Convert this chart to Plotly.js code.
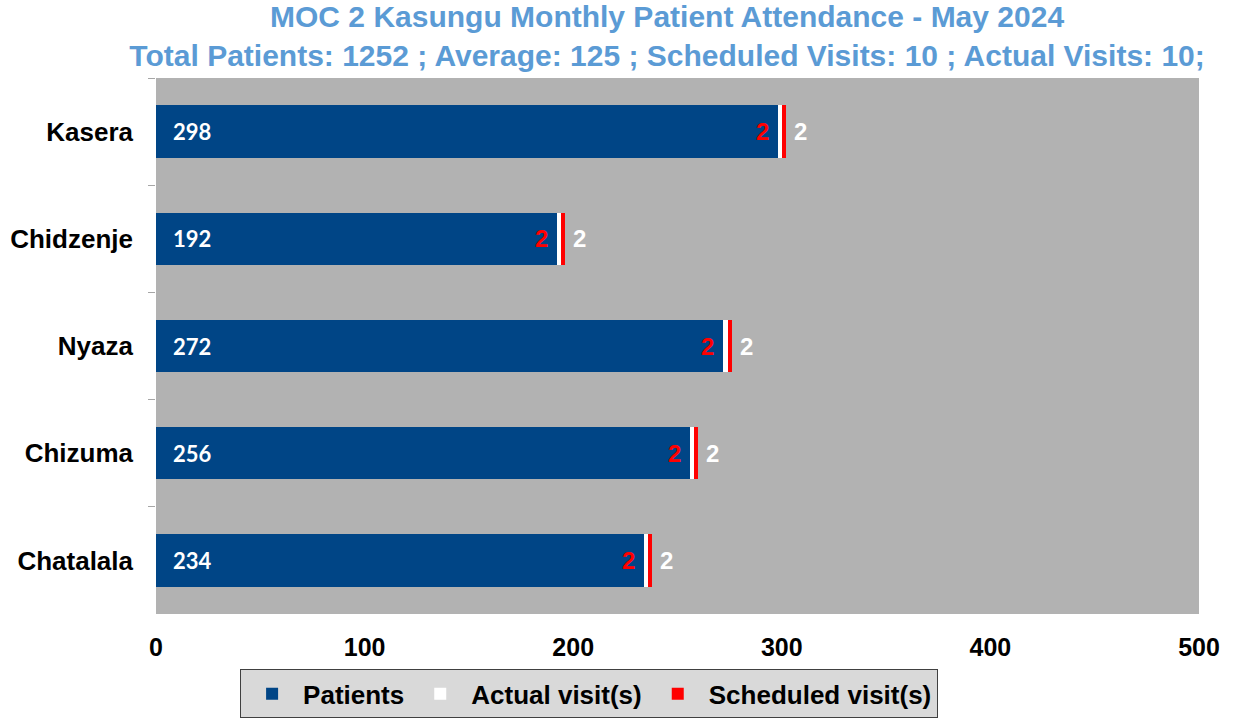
<!DOCTYPE html>
<html>
<head>
<meta charset="utf-8">
<script src="https://cdn.plot.ly/plotly-3.0.1.min.js"></script>
<style>html,body{margin:0;padding:0;background:#fff;}#chart{width:1235px;height:719px;}</style>
</head>
<body>
<div id="chart"></div>
<script>
const sites = ["Kasera", "Chidzenje", "Nyaza", "Chizuma", "Chatalala"];
const patients = [298, 192, 272, 256, 234];
const actualVisits = [2, 2, 2, 2, 2];
const scheduledVisits = [2, 2, 2, 2, 2];
const xTicks = [0, 100, 200, 300, 400, 500];
const titleLine1 = "MOC 2 Kasungu Monthly Patient Attendance - May 2024";
const titleLine2 = "Total Patients: 1252 ; Average: 125 ; Scheduled Visits: 10 ; Actual Visits: 10;";

const arial = "Liberation Sans, Arial, sans-serif";

const traces = [
  {type: "bar", orientation: "h", name: "Patients", y: sites, x: patients,
   marker: {color: "#004586"}, hoverinfo: "x+y"},
  {type: "bar", orientation: "h", name: "Actual visit(s)", y: sites, x: actualVisits,
   marker: {color: "#FFFFFF"}, hoverinfo: "x+y"},
  {type: "bar", orientation: "h", name: "Scheduled visit(s)", y: sites, x: scheduledVisits,
   marker: {color: "#FF0000"}, hoverinfo: "x+y"}
];

const annotations = [];
sites.forEach((s, i) => {
  annotations.push({x: 0, y: s, xref: "x", yref: "y", text: String(patients[i]),
    showarrow: false, xanchor: "left", xshift: 15,
    font: {family: "Lato, Open Sans, sans-serif", size: 22, color: "#FFFFFF", weight: "bold"}});
  annotations.push({x: patients[i], y: s, xref: "x", yref: "y", text: String(actualVisits[i]),
    showarrow: false, xanchor: "right", xshift: -7,
    font: {family: arial, size: 24, color: "#FF0000", weight: "bold"}});
  annotations.push({x: patients[i] + actualVisits[i] + scheduledVisits[i], y: s, xref: "x", yref: "y",
    text: String(scheduledVisits[i]),
    showarrow: false, xanchor: "left", xshift: 6,
    font: {family: arial, size: 24, color: "#FFFFFF", weight: "bold"}});
});

const layout = {
  width: 1235, height: 719,
  margin: {l: 156, r: 36, t: 78, b: 105},
  paper_bgcolor: "#FFFFFF",
  plot_bgcolor: "#B2B2B2",
  barmode: "stack",
  bargap: 0.51,
  showlegend: true,
  title: {
    text: "<b>" + titleLine1 + "</b><br><b>" + titleLine2 + "</b>",
    font: {family: arial, size: 30, color: "#5B9BD5"},
    x: 0.49, xref: "paper", xanchor: "center",
    y: 0.963, yref: "container", yanchor: "top"
  },
  xaxis: {
    range: [0, 500], tickvals: xTicks, ticktext: xTicks.map(String),
    showgrid: false, zeroline: false, showline: false, ticks: "",
    ticklabelstandoff: 16,
    tickfont: {family: arial, size: 25, color: "#000000", weight: "bold"},
    fixedrange: true
  },
  yaxis: {
    type: "category", autorange: "reversed",
    showgrid: false, zeroline: false, showline: false,
    ticks: "outside", tickson: "boundaries", ticklen: 7, tickcolor: "#A6A6A6", tickwidth: 1,
    ticklabelstandoff: 22,
    tickfont: {family: arial, size: 26, color: "#000000", weight: "bold"},
    fixedrange: true
  },
  legend: {
    orientation: "h",
    xref: "container", x: 0.477, xanchor: "center",
    yref: "container", y: 0.001, yanchor: "bottom",
    bgcolor: "#D9D9D9", bordercolor: "#404040", borderwidth: 1,
    font: {family: arial, size: 26, color: "#000000", weight: "bold"},
    itemwidth: 52,
    traceorder: "normal"
  },
  annotations: annotations
};

Plotly.newPlot("chart", traces, layout, {displayModeBar: false, staticPlot: true});
</script>
</body>
</html>
